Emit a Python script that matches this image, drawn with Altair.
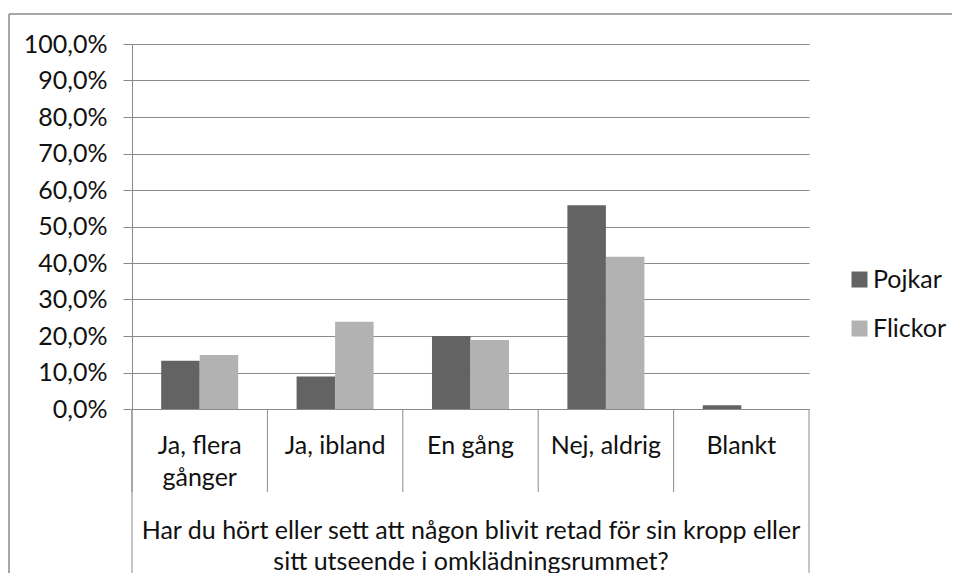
import altair as alt
import pandas as pd

categories = ["Ja, flera gånger", "Ja, ibland", "En gång", "Nej, aldrig", "Blankt"]
series = ["Pojkar", "Flickor"]
pojkar = [0.132, 0.089, 0.200, 0.558, 0.010]
flickor = [0.148, 0.239, 0.189, 0.417, 0.0]
y_ticks = [0.0, 0.1, 0.2, 0.3, 0.4, 0.5, 0.6, 0.7, 0.8, 0.9, 1.0]
x_title = ["Har du hört eller sett att någon blivit retad för sin kropp eller",
           "sitt utseende i omklädningsrummet?"]
colors = ["#636363", "#b2b2b2"]

rows = []
for c, p, f in zip(categories, pojkar, flickor):
    rows.append({"cat": c, "kon": "Pojkar", "andel": p})
    rows.append({"cat": c, "kon": "Flickor", "andel": f})
df = pd.DataFrame(rows)

FONT = "Lato"
GRAY = "#8a8a8a"
TXT = "#111111"
FS = 25
W, H = 677, 365

xscale = alt.Scale(domain=categories, paddingInner=0, paddingOuter=0)

x_axis = alt.Axis(
    title=x_title, ticks=False, tickSize=0, domain=True, domainColor=GRAY, domainWidth=1,
    labelAngle=0, labelFont=FONT, labelFontSize=FS, labelColor=TXT, labelPadding=44,
    labelBaseline="alphabetic", labelLineHeight=32, labelOverlap=False, labelLimit=0,
    labelExpr="datum.value == 'Ja, flera gånger' ? ['Ja, flera', 'gånger'] : datum.label",
    titleFont=FONT, titleFontSize=FS, titleFontWeight="normal", titleColor=TXT,
    titleX=W / 2, titleY=129, titleAlign="center", titleBaseline="alphabetic",
    titleLineHeight=31, grid=False,
)

y_main = alt.Y(
    "andel:Q", scale=alt.Scale(domain=[0, 1], nice=False),
    axis=alt.Axis(
        values=y_ticks, title=None, tickSize=9, tickColor=GRAY, domainColor=GRAY,
        gridColor=GRAY, grid=True, labelFont=FONT, labelFontSize=FS, labelColor=TXT,
        labelPadding=16,
        labelExpr="replace(format(datum.value, '.1%'), '.', ',')",
    ),
)

bars = alt.Chart(df).mark_bar().encode(
    x=alt.X("cat:N", scale=xscale, sort=categories, axis=x_axis),
    xOffset=alt.XOffset("kon:N", sort=series,
                        scale=alt.Scale(domain=series, paddingOuter=0.758, paddingInner=0)),
    y=y_main,
    color=alt.Color(
        "kon:N", sort=series, scale=alt.Scale(domain=series, range=colors),
        legend=alt.Legend(
            title=None, orient="none", legendX=715, legendY=223, symbolType="square",
            symbolSize=256, symbolStrokeWidth=0, labelFont=FONT, labelFontSize=FS,
            labelColor=TXT, rowPadding=23, labelOffset=1, padding=0,
        ),
    ),
)

div_df = pd.DataFrame({"cat": categories})
dividers = alt.Chart(div_df).mark_rule(color=GRAY, strokeWidth=1).encode(
    x=alt.X("cat:N", scale=xscale, sort=categories, bandPosition=0, axis=x_axis),
    y=alt.value(H),
    y2=alt.value(H + 83),
)

one = pd.DataFrame({"k": [0]})
left_edge = alt.Chart(one).mark_rule(color=GRAY, strokeWidth=1).encode(
    x=alt.value(0), y=alt.value(H), y2=alt.value(H + 164))
right_edge = alt.Chart(one).mark_rule(color=GRAY, strokeWidth=1).encode(
    x=alt.value(W), y=alt.value(H), y2=alt.value(H + 164))
frame_top = alt.Chart(one).mark_rule(color=GRAY, strokeWidth=1.5).encode(
    x=alt.value(-123), x2=alt.value(W + 143), y=alt.value(-30))
frame_left = alt.Chart(one).mark_rule(color=GRAY, strokeWidth=1.5).encode(
    x=alt.value(-123), y=alt.value(-30), y2=alt.value(H + 164))

chart = alt.layer(frame_top, frame_left, bars, dividers, left_edge, right_edge).properties(
    width=W, height=H,
    autosize=alt.AutoSizeParams(type="none"),
    padding={"left": 124, "top": 36, "right": 143, "bottom": 164},
    background="white",
).configure_view(strokeWidth=0)

chart.save("out.html", embed_options={"renderer": "svg", "actions": False})
